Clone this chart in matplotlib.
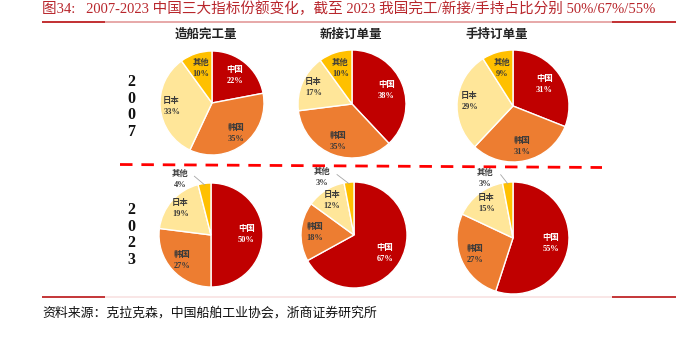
import matplotlib
matplotlib.use("Agg")
import matplotlib.pyplot as plt
import numpy as np

# ---------------- data ----------------
countries = ['中国', '韩国', '日本', '其他']
metrics = ['造船完工量', '新接订单量', '手持订单量']
years = ['2007', '2023']
completed_2007 = [22, 35, 33, 10]
new_orders_2007 = [38, 35, 17, 10]
backlog_2007 = [31, 31, 29, 9]
completed_2023 = [50, 27, 19, 4]
new_orders_2023 = [67, 18, 12, 3]
backlog_2023 = [55, 27, 15, 3]

title = '图34:   2007-2023 中国三大指标份额变化，截至 2023 我国完工/新接/手持占比分别 50%/67%/55%'
source = '资料来源：克拉克森，中国船舶工业协会，浙商证券研究所'

# ---------------- style ----------------
W, H = 690, 342
colors = ['#C00000', '#ED7D31', '#FFE699', '#FFC000']
txt_colors = ['white', '#3A3A3A', '#3A3A3A', '#3A3A3A']
serif_cjk = ['Liberation Serif', 'Noto Sans CJK SC']

fig = plt.figure(figsize=(W / 100, H / 100), dpi=100)
base = fig.add_axes([0, 0, 1, 1])
base.set_xlim(0, W)
base.set_ylim(H, 0)
base.axis('off')

# title
base.text(42, 8.5, title, family=serif_cjk, fontsize=10.5, color='#B8262C',
          va='center', ha='left')
# top & bottom rules
for y, mid_col in ((22, '#E39A9A'), (297, '#F8E2E2')):
    base.plot([42, 676], [y, y], color=mid_col, lw=1.2, solid_capstyle='butt')
    base.plot([42, 105], [y, y], color='#C0282A', lw=1.3, solid_capstyle='butt')
    base.plot([612, 676], [y, y], color='#C0282A', lw=1.3, solid_capstyle='butt')
# source
base.text(42, 313, source, family=serif_cjk, fontsize=9.3, color='#111111',
          va='center', ha='left')

# column titles
for x, m in zip([206, 351, 497], metrics):
    base.text(x, 35, m, family=serif_cjk, fontsize=9, fontweight='bold',
              color='#222222', ha='center', va='center')

# year labels (vertical)
for ytop, yr in zip([82, 210], years):
    for i, ch in enumerate(yr):
        base.text(131, ytop + i * 16.6, ch, family='Liberation Serif',
                  fontsize=11.5, fontweight='bold', color='#111111',
                  ha='center', va='center')

# dashed separator
base.plot([120, 602], [164.5, 167.5], color='#FF0000', lw=2.0,
          dashes=(4.5, 3.2))

# ---------------- pies ----------------
pies = [
    (completed_2007, (212, 103, 52), False),
    (new_orders_2007, (352, 104, 54), False),
    (backlog_2007, (513, 106, 56), False),
    (completed_2023, (211, 235, 52), True),
    (new_orders_2023, (354, 235, 53), True),
    (backlog_2023, (513, 238, 56), True),
]
label_dist = [0.68, 0.74, 0.78, 0.70]
outside_pos = [(-0.6, 1.07), (-0.6, 1.08), (-0.5, 1.07)]

k_out = 0
for vals, (cx, cy, r), other_outside in pies:
    ax = fig.add_axes([(cx - r) / W, 1 - (cy + r) / H, 2 * r / W, 2 * r / H])
    wedges, _ = ax.pie(vals, colors=colors, startangle=90, counterclock=False,
                       wedgeprops=dict(edgecolor='white', linewidth=1.0))
    ax.set_xlim(-1, 1)
    ax.set_ylim(-1, 1)
    ax.set_aspect('auto')
    ax.axis('off')
    total = sum(vals)
    cum = 0
    for i, (v, name) in enumerate(zip(vals, countries)):
        mid = np.deg2rad(90 - (cum + v / 2) / total * 360)
        cum += v
        lab = f'{name}\n{v}%'
        if i == 3 and other_outside:
            lx, ly = outside_pos[k_out]
            k_out += 1
            ax.text(lx, ly, lab, family=serif_cjk, fontsize=6, fontweight='bold',
                    color='#3A3A3A', ha='center', va='center', linespacing=1.5,
                    clip_on=False)
            ax.plot([lx + 0.28, np.cos(mid) * 0.97], [ly + 0.06, np.sin(mid) * 0.97],
                    color='#A6A6A6', lw=0.6, clip_on=False)
            continue
        d = label_dist[i]
        ax.text(d * np.cos(mid), d * np.sin(mid), lab, family=serif_cjk,
                fontsize=6, fontweight='bold', color=txt_colors[i],
                ha='center', va='center', linespacing=1.5)

fig.savefig('out.png', dpi=100)
